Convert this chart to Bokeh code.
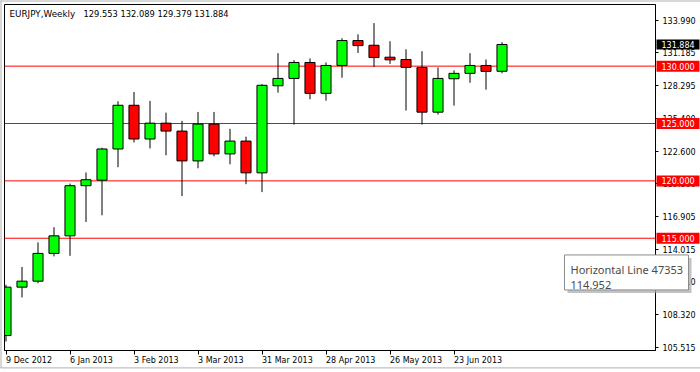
from bokeh.plotting import figure
from bokeh.models import Range1d, FixedTicker, Span, Label, PrintfTickFormatter
from bokeh.core.properties import value
from bokeh.embed import file_html
from bokeh.resources import INLINE

# ---- data ----
week_index = list(range(32))
opens = [106.52, 110.74, 111.26, 113.68, 115.21, 119.58, 120.06, 122.78,
         126.59, 123.65, 125.03, 124.34, 121.74, 124.95, 122.35, 123.47,
         120.70, 128.29, 128.93, 130.32, 127.63, 130.06, 132.23, 131.82,
         130.78, 130.58, 129.89, 125.99, 128.90, 129.37, 130.06, 129.553]
highs = [110.94, 112.50, 114.64, 115.96, 119.77, 120.73, 122.89, 126.94,
         127.75, 126.97, 125.95, 125.23, 126.01, 126.01, 124.54, 123.85,
         128.44, 131.13, 130.52, 130.67, 130.32, 132.43, 132.77, 133.75,
         132.17, 131.47, 131.30, 129.89, 129.63, 131.13, 130.58, 132.089]
lows = [106.00, 109.84, 111.08, 113.42, 113.47, 116.42, 117.00, 121.19,
        123.35, 122.83, 122.23, 118.67, 121.10, 122.14, 121.45, 119.71,
        119.02, 127.69, 124.91, 127.11, 126.99, 128.99, 131.15, 129.94,
        130.20, 126.13, 124.91, 125.78, 126.56, 128.55, 127.95, 129.379]
closes = [110.74, 111.26, 113.68, 115.21, 119.58, 120.10, 122.78, 126.59,
          123.65, 125.03, 124.34, 121.74, 124.95, 122.35, 123.47, 120.70,
          128.33, 128.93, 130.32, 127.63, 130.06, 132.23, 131.79, 130.75,
          130.55, 129.89, 125.99, 128.93, 129.37, 130.06, 129.54, 131.884]

x_tick_positions = [0, 4, 8, 12, 16, 20, 24, 28]
x_tick_labels = ["9 Dec 2012", "6 Jan 2013", "3 Feb 2013", "3 Mar 2013",
                 "31 Mar 2013", "28 Apr 2013", "26 May 2013", "23 Jun 2013"]
y_tick_values = [105.515, 108.320, 111.210, 114.015, 116.905, 119.800,
                 122.600, 125.400, 128.295, 131.185, 133.990]
level_lines = [115.0, 120.0, 125.0, 130.0]
title_symbol = "EURJPY,Weekly"
title_ohlc = [129.553, 132.089, 129.379, 131.884]
last_close = 131.884
tooltip_title = "Horizontal Line 47353"
tooltip_price = 114.952

GREEN = "#00ff00"
RED = "#ff0000"
FONT = "DejaVu Sans"

W, H = 700, 372
FRAME_L, FRAME_T, FRAME_R, FRAME_B = 4, 4, 655, 352
PX_PER_WEEK = 16.0
PX_PER_YEN = 11.54
X0 = (FRAME_L - 5.5) / PX_PER_WEEK
X1 = (FRAME_R - 5.5) / PX_PER_WEEK
Y1 = 130 + (66 - FRAME_T) / PX_PER_YEN
Y0 = 130 - (FRAME_B - 66) / PX_PER_YEN


def px_x(px):
    return X0 + (px - FRAME_L) / PX_PER_WEEK


def px_y(py):
    return Y1 - (py - FRAME_T) / PX_PER_YEN


p = figure(width=W, height=H, x_range=Range1d(X0, X1), y_range=Range1d(Y0, Y1),
           y_axis_location="right", output_backend="svg", toolbar_location=None,
           min_border_left=FRAME_L, min_border_top=FRAME_T,
           min_border_right=W - FRAME_R, min_border_bottom=H - FRAME_B,
           background_fill_color="white", border_fill_color="white")
p.outline_line_color = "black"
p.outline_line_width = 1
p.xgrid.visible = False
p.ygrid.visible = False

# level lines (behind candles)
for lvl in level_lines:
    p.add_layout(Span(location=lvl, dimension="width", line_color=RED,
                      line_width=1, level="underlay"))

# candles
body_top = [max(o, c) for o, c in zip(opens, closes)]
body_bot = [min(o, c) for o, c in zip(opens, closes)]
colors = [GREEN if c >= o else RED for o, c in zip(opens, closes)]
p.segment(x0=week_index, y0=lows, x1=week_index, y1=highs, line_color="black", line_width=1)
p.vbar(x=week_index, top=body_top, bottom=body_bot, width=0.63,
       fill_color=colors, line_color="black", line_width=1)

# x axis: labels start at the tick (tiny negative orientation -> left aligned)
xa = p.xaxis[0]
xa.ticker = FixedTicker(ticks=x_tick_positions)
xa.major_label_overrides = {t: l for t, l in zip(x_tick_positions, x_tick_labels)}
xa.major_label_text_font = FONT
xa.major_label_text_font_size = "8px"
xa.major_label_text_color = "black"
xa.major_label_orientation = -0.0001
xa.major_tick_out = 4
xa.major_tick_in = 0
xa.minor_tick_out = 0
xa.minor_tick_in = 0
xa.major_label_standoff = 6
xa.axis_line_color = "black"
xa.major_tick_line_color = "black"

ya = p.yaxis[0]
ya.ticker = FixedTicker(ticks=y_tick_values)
ya.formatter = PrintfTickFormatter(format="%.3f")
ya.major_label_text_font = FONT
ya.major_label_text_font_size = "8px"
ya.major_label_text_color = "black"
ya.major_tick_out = 3
ya.major_tick_in = 0
ya.minor_tick_out = 0
ya.minor_tick_in = 0
ya.major_label_standoff = 4
ya.axis_line_color = "black"
ya.major_tick_line_color = "black"

# title text: symbol/timeframe, then the last bar's O H L C
p.add_layout(Label(x=X0, y=Y1, x_offset=5, y_offset=-4, text=title_symbol,
                   text_font=FONT, text_font_size="8.8px", text_color="black",
                   text_align="left", text_baseline="top"))
p.add_layout(Label(x=X0, y=Y1, x_offset=79, y_offset=-4,
                   text=" ".join(f"{v:.3f}" for v in title_ohlc),
                   text_font=FONT, text_font_size="8.3px", text_color="black",
                   text_align="left", text_baseline="top"))

# price tags on the price axis (glyphs drawn at overlay level)
tag_values = level_lines + [last_close]
tag_colors = [RED] * len(level_lines) + ["black"]
tag_heights = [11] * len(level_lines) + [10]
tag_texts = [f"{v:.3f}" for v in tag_values]
tag_cx = px_x((FRAME_R + 1 + W - 1) / 2)
p.rect(x=[tag_cx] * len(tag_values), y=tag_values, width=W - FRAME_R - 2, height=tag_heights,
       width_units="screen", height_units="screen", fill_color=tag_colors,
       line_color=None, level="overlay")
p.text(x=[px_x(FRAME_R + 6)] * len(tag_values), y=tag_values, text=tag_texts,
       text_font=value(FONT), text_font_size="8px", text_color="white",
       text_align="left", text_baseline="middle", level="overlay")

# tooltip box with shadow
box_l, box_r, box_t, box_b = 564, 688, 256, 291
p.rect(x=[px_x((box_l + box_r) / 2 + 3)], y=[px_y((box_t + box_b) / 2 + 3)],
       width=box_r - box_l, height=box_b - box_t, width_units="screen", height_units="screen",
       fill_color="#a8a8a8", fill_alpha=0.7, line_color=None, level="overlay")
p.rect(x=[px_x((box_l + box_r) / 2)], y=[px_y((box_t + box_b) / 2)],
       width=box_r - box_l, height=box_b - box_t, width_units="screen", height_units="screen",
       fill_color="white", line_color="#8c8c8c", level="overlay")
p.text(x=[px_x(box_l + 6)] * 2, y=[px_y(271), px_y(286)],
       text=[tooltip_title, f"{tooltip_price:.3f}"],
       text_font=value("Noto Sans"), text_font_size="11px", text_color="#4a4a4a",
       text_align="left", text_baseline="alphabetic", level="overlay")

# light grey window edge (top, left, bottom)
p.segment(x0=[px_x(0), px_x(0.5), px_x(0)], y0=[px_y(0.5), px_y(0), px_y(369.5)],
          x1=[px_x(W), px_x(0.5), px_x(W)], y1=[px_y(0.5), px_y(369.5), px_y(369.5)],
          line_color="#b0b0b0", line_width=1, level="overlay")

open("out.html", "w").write(file_html(p, INLINE))
